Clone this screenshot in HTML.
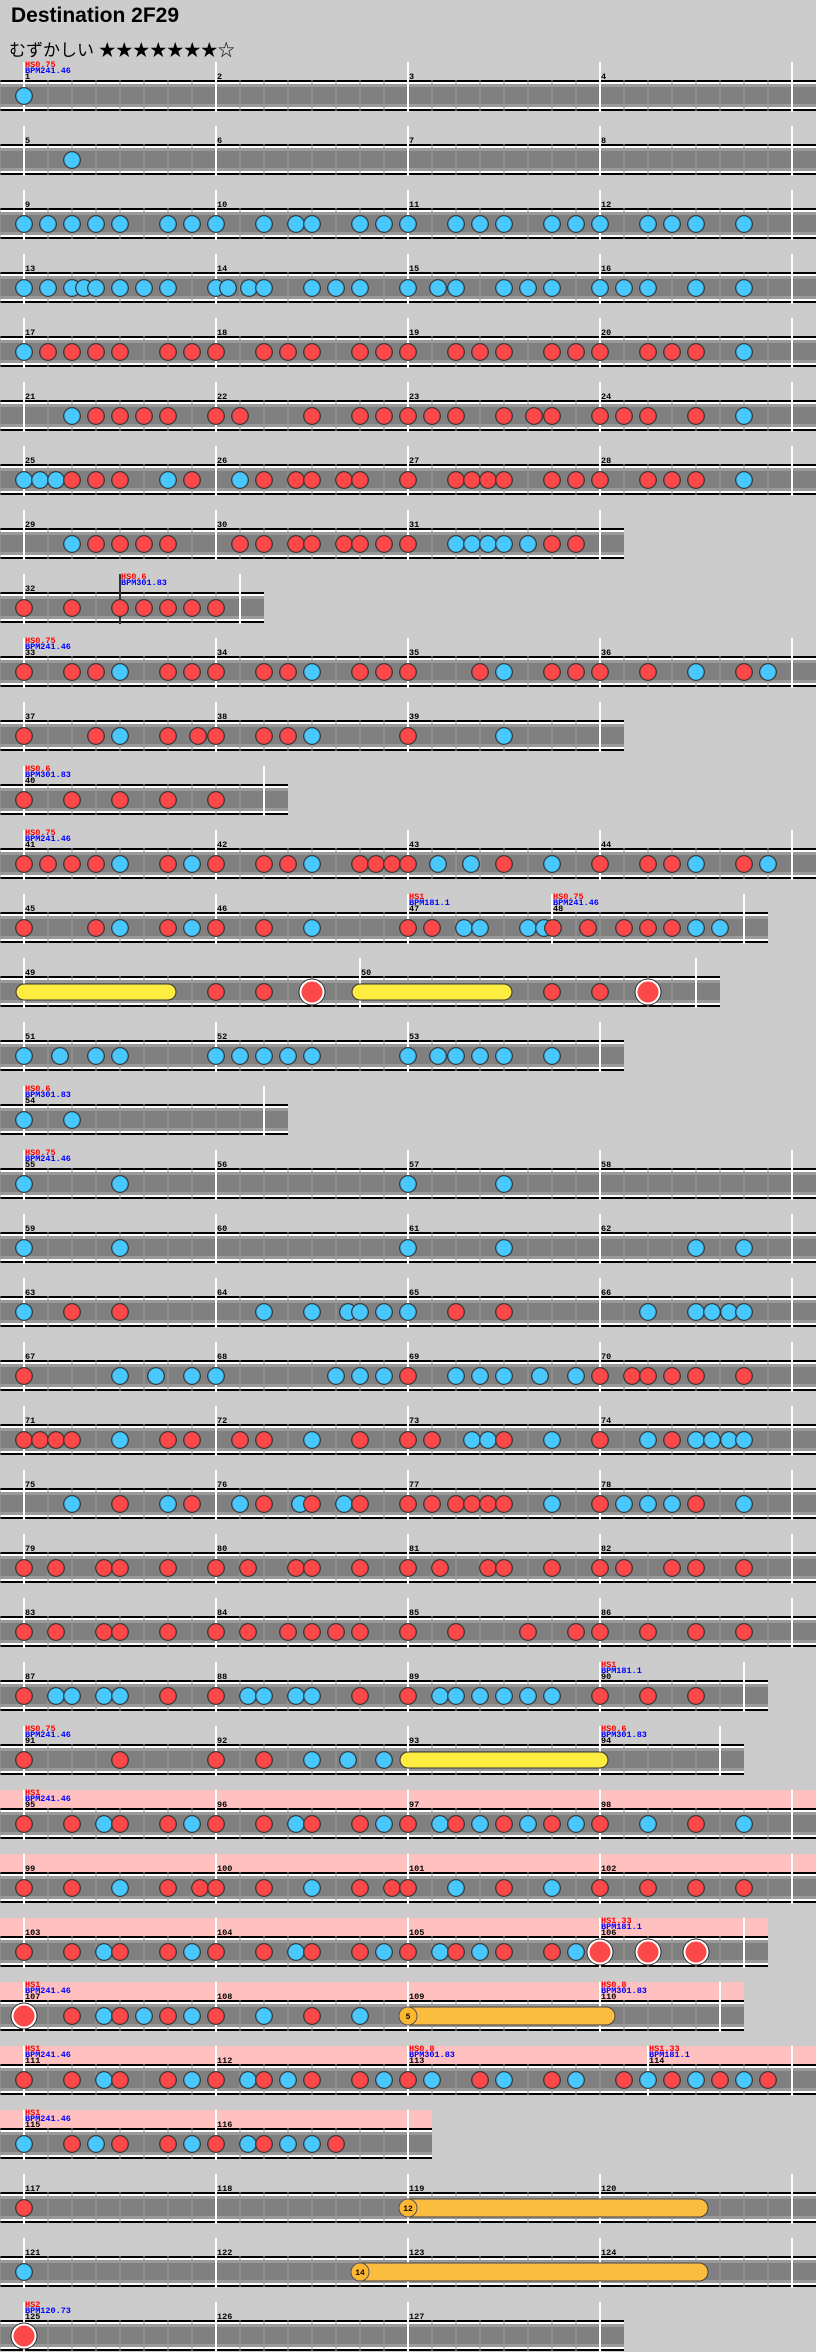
<!DOCTYPE html>
<html><head><meta charset="utf-8">
<style>
html,body{margin:0;padding:0;background:#cccccc;}
body{width:816px;height:2352px;overflow:hidden;position:relative;}
#t1{position:absolute;left:11px;top:4px;font:bold 21px "Liberation Sans",sans-serif;color:#000;}
#t2{position:absolute;left:9px;top:36px;font:17px "Liberation Sans","Noto Sans CJK JP",sans-serif;color:#000;}
svg{position:absolute;left:0;top:0;}
</style></head><body>
<div id="t1">Destination 2F29</div>
<div id="t2">むずかしい ★★★★★★★☆</div>
<svg id="s" width="816" height="2352" xmlns="http://www.w3.org/2000/svg"></svg>
<script>
const F=[24,216,408,600,792];
const rows=[
{n:1,lab:[[24,"HS0.75","BPM241.46"]],no:"24b"},
{n:5,no:"72b"},
{n:9,no:"24b 48b 72b 96b 120b 168b 192b 216b 264b 296b 312b 360b 384b 408b 456b 480b 504b 552b 576b 600b 648b 672b 696b 744b"},
{n:13,no:"24b 48b 72b 84b 96b 120b 144b 168b 216b 228b 249b 264b 312b 336b 360b 408b 438b 456b 504b 528b 552b 600b 624b 648b 696b 744b"},
{n:17,no:"24b 48r 72r 96r 120r 168r 192r 216r 264r 288r 312r 360r 384r 408r 456r 480r 504r 552r 576r 600r 648r 672r 696r 744b"},
{n:21,no:"72b 96r 120r 144r 168r 216r 240r 312r 360r 384r 408r 432r 456r 504r 534r 552r 600r 624r 648r 696r 744b"},
{n:25,no:"24b 40b 56b 72r 96r 120r 168b 192r 240b 264r 296r 312r 344r 360r 408r 456r 472r 488r 504r 552r 576r 600r 648r 672r 696r 744b"},
{n:29,bars:[24,216,408,600],end:624,no:"72b 96r 120r 144r 168r 240r 264r 296r 312r 344r 360r 384r 408r 456b 472b 488b 504b 528b 552r 576r"},
{n:32,bars:[24,240],end:264,dark:120,lab:[[120,"HS0.6","BPM301.83"]],no:"24r 72r 120r 144r 168r 192r 216r"},
{n:33,lab:[[24,"HS0.75","BPM241.46"]],no:"24r 72r 96r 120b 168r 192r 216r 264r 288r 312b 360r 384r 408r 480r 504b 552r 576r 600r 648r 696b 744r 768b"},
{n:37,bars:[24,216,408,600],end:624,no:"24r 96r 120b 168r 198r 216r 264r 288r 312b 408r 504b"},
{n:40,bars:[24,264],end:288,lab:[[24,"HS0.6","BPM301.83"]],no:"24r 72r 120r 168r 216r"},
{n:41,lab:[[24,"HS0.75","BPM241.46"]],no:"24r 48r 72r 96r 120b 168r 192b 216r 264r 288r 312b 360r 376r 392r 408r 438b 471b 504r 552b 600r 648r 672r 696b 744r 768b"},
{n:45,bars:[24,216,408,552,744],end:768,lab:[[408,"HS1","BPM181.1"],[552,"HS0.75","BPM241.46"]],no:"24r 96r 120b 168r 192b 216r 264r 312b 408r 432r 464b 480b 528b 544b 553r 588r 624r 648r 672r 696b 720b"},
{n:49,bars:[24,360,696],end:720,yel:[[24,168],[360,504]],no:"216r 264r 312R 552r 600r 648R"},
{n:51,bars:[24,216,408,600],end:624,no:"24b 60b 96b 120b 216b 240b 264b 288b 312b 408b 438b 456b 480b 504b 552b"},
{n:54,bars:[24,264],end:288,lab:[[24,"HS0.6","BPM301.83"]],no:"24b 72b"},
{n:55,lab:[[24,"HS0.75","BPM241.46"]],no:"24b 120b 408b 504b"},
{n:59,no:"24b 120b 408b 504b 696b 744b"},
{n:63,no:"24b 72r 120r 264b 312b 348b 360b 384b 408b 456r 504r 648b 696b 712b 729b 744b"},
{n:67,no:"24r 120b 156b 192b 216b 336b 360b 384b 408r 456b 480b 504b 540b 576b 600r 632r 648r 672r 696r 744r"},
{n:71,no:"24r 40r 56r 72r 120b 168r 192r 240r 264r 312b 360r 408r 432r 472b 488b 504r 552b 600r 648b 672r 696b 712b 729b 744b"},
{n:75,no:"72b 120r 168b 192r 240b 264r 300b 312r 344b 360r 408r 432r 456r 472r 488r 504r 552b 600r 624b 648b 672b 696r 744b"},
{n:79,no:"24r 56r 104r 120r 168r 216r 248r 296r 312r 360r 408r 440r 488r 504r 552r 600r 624r 672r 696r 744r"},
{n:83,no:"24r 56r 104r 120r 168r 216r 248r 288r 312r 336r 360r 408r 456r 528r 576r 600r 648r 696r 744r"},
{n:87,bars:[24,216,408,600,744],end:768,lab:[[600,"HS1","BPM181.1"]],no:"24r 56b 72b 104b 120b 168r 216r 248b 264b 296b 312b 360r 408r 440b 456b 480b 504b 528b 552b 600r 648r 696r"},
{n:91,bars:[24,216,408,600,720],end:744,lab:[[24,"HS0.75","BPM241.46"],[600,"HS0.6","BPM301.83"]],yel:[[408,600]],no:"24r 120r 216r 264r 312b 348b 384b"},
{n:95,pink:1,lab:[[24,"HS1","BPM241.46"]],no:"24r 72r 104b 120r 168r 192b 216r 264r 296b 312r 360r 384b 408r 440b 456r 480b 504r 528b 552r 576b 600r 648b 696r 744b"},
{n:99,pink:1,no:"24r 72r 120b 168r 200r 216r 264r 312b 360r 392r 408r 456b 504r 552b 600r 648r 696r 744r"},
{n:103,pink:1,bars:[24,216,408,600,744],end:768,lab:[[600,"HS1.33","BPM181.1"]],no:"24r 72r 104b 120r 168r 192b 216r 264r 296b 312r 360r 384b 408r 440b 456r 480b 504r 552r 576b 600R 648R 696R"},
{n:107,pink:1,bars:[24,216,408,600,720],end:744,lab:[[24,"HS1","BPM241.46"],[600,"HS0.8","BPM301.83"]],org:[[408,607,"5"]],no:"24R 72r 104b 120r 144b 168r 192b 216r 264b 312r 360b"},
{n:111,pink:1,bars:[24,216,408,648,792],end:816,lab:[[24,"HS1","BPM241.46"],[408,"HS0.8","BPM301.83"],[648,"HS1.33","BPM181.1"]],no:"24r 72r 104b 120r 168r 192b 216r 248b 264r 288b 312r 360r 384b 408r 432b 480r 504b 552r 576b 624r 648b 672r 696b 720r 744b 768r"},
{n:115,pink:1,bars:[24,216,408],end:432,lab:[[24,"HS1","BPM241.46"]],no:"24b 72r 96b 120r 168r 192b 216r 248b 264r 288b 312b 336r"},
{n:117,org:[[408,700,"12"]],no:"24r"},
{n:121,org:[[360,700,"14"]],no:"24b"},
{n:125,bars:[24,216,408,600],end:624,lab:[[24,"HS2","BPM120.73"]],no:"24R"}
];
const NS="http://www.w3.org/2000/svg";const s=document.getElementById("s");
function el(t,a,txt){const e=document.createElementNS(NS,t);for(const k in a)e.setAttribute(k,a[k]);if(txt!==undefined)e.textContent=txt;s.appendChild(e);return e;}
rows.forEach((r,i)=>{
 const T=80+64*i;const bars=r.bars||F;const end=r.end||816;
 if(r.pink)el("rect",{x:0,y:T-18,width:end,height:18,fill:"#ffc0c0"});
 el("rect",{x:0,y:T,width:end,height:2,fill:"#000"});
 el("rect",{x:0,y:T+2,width:end,height:2,fill:"#fff"});
 el("rect",{x:0,y:T+4,width:end,height:23,fill:"#808080"});
 el("rect",{x:0,y:T+4,width:end,height:3,fill:"#9a9a9a"});
 el("rect",{x:0,y:T+24,width:end,height:3,fill:"#9a9a9a"});
 el("rect",{x:0,y:T+27,width:end,height:2,fill:"#fff"});
 el("rect",{x:0,y:T+29,width:end,height:2,fill:"#000"});
 for(let x=0;x<end;x+=24)el("rect",{x:x-1,y:T,width:2,height:31,fill:"#999",opacity:0.55});
 if(r.dark)el("rect",{x:r.dark-1,y:T-18,width:2,height:50,fill:"#333"});
 bars.forEach((x,j)=>{el("rect",{x:x-1,y:T-18,width:2,height:50,fill:"#fff"});
  if(j<bars.length-1)el("text",{x:x+1,y:T-1,"font-family":"Liberation Mono,monospace","font-size":"8.5","font-weight":"bold",fill:"#000"},String(r.n+j));});
 (r.lab||[]).forEach(l=>{el("text",{x:l[0]+1,y:T-13,"font-family":"Liberation Mono,monospace","font-size":"8.5","font-weight":"bold",fill:"#ff0000"},l[1]);
  el("text",{x:l[0]+1,y:T-7,"font-family":"Liberation Mono,monospace","font-size":"8.5","font-weight":"bold",fill:"#0000ff"},l[2]);});
 const cy=T+16;
 (r.yel||[]).forEach(b=>{el("rect",{x:b[0]-8,y:cy-8,width:b[1]-b[0]+16,height:16,rx:8,fill:"#ffec40",stroke:"#333","stroke-width":1});});
 (r.org||[]).forEach(b=>{el("rect",{x:b[0]-8,y:cy-9,width:b[1]-b[0]+16,height:18,rx:9,fill:"#fcbc40",stroke:"#444","stroke-width":1});
  el("circle",{cx:b[0],cy:cy,r:9,fill:"#fcb830",stroke:"#555","stroke-width":1});
  el("text",{x:b[0],y:cy+3,"text-anchor":"middle","font-family":"Liberation Mono,monospace","font-size":"8","font-weight":"bold",fill:"#000"},b[2]);});
 r.no.split(" ").forEach(tk=>{const x=parseInt(tk);const c=tk.slice(-1);
  const big=c==="R";const col=(c==="b")?"#48c8fc":"#fc4848";
  if(big){el("circle",{cx:x,cy:cy,r:13,fill:"#fff",stroke:"#333","stroke-width":1});el("circle",{cx:x,cy:cy,r:10.5,fill:col});}
  else el("circle",{cx:x,cy:cy,r:8.3,fill:col,stroke:"#333","stroke-width":1.2});});
});
</script>
</body></html>
